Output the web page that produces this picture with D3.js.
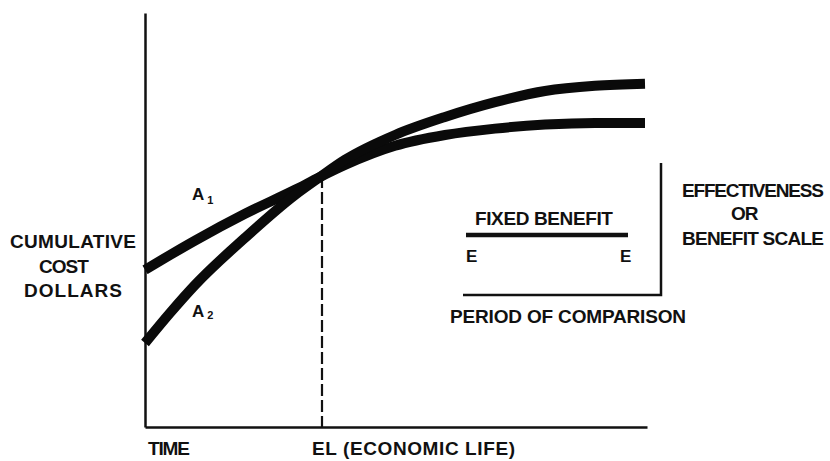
<!DOCTYPE html>
<html>
<head>
<meta charset="utf-8">
<style>
    body { margin: 0; background: #fff; }
    .lbl { font-family: "Liberation Sans", Arial, sans-serif; font-weight: 700; fill: #111; }
    .curve { fill: none; stroke: #0a0a0a; stroke-width: 10px; stroke-linecap: butt; }
    .axis { stroke: #111; stroke-width: 2.5px; fill: none; }
</style>
</head>
<body>
<div id="chart"></div>
<script src="https://cdn.jsdelivr.net/npm/d3@7"></script>
<script>
    // time points (arbitrary units, 0 = start, 10 = end of period)
    const time = [0, 0.5, 1, 2, 3, 3.5, 4, 5, 6, 7, 8, 9, 10];
    // cumulative cost of the two alternatives
    const costA1 = [3.93, 4.3, 4.66, 5.33, 5.93, 6.25, 6.55, 7.03, 7.3, 7.46, 7.56, 7.6, 7.6];
    const costA2 = [2.1, 2.85, 3.55, 4.73, 5.8, 6.25, 6.68, 7.3, 7.75, 8.12, 8.4, 8.53, 8.58];
    const economicLife = 3.54;

    // inset: fixed benefit over period of comparison
    const period = [6.36, 10.32];
    const benefitSpan = [6.42, 9.66];
    const benefitLevel = 4.8;
    const scaleRange = [3.3, 6.6];

    const W = 830, H = 461;
    const svg = d3.select("#chart").append("svg")
        .attr("width", W).attr("height", H);

    const x = d3.scaleLinear().domain([0, 10.04]).range([145, 647]);
    const y = d3.scaleLinear().domain([0, 10.35]).range([427, 13]);

    // axes (no ticks)
    svg.append("g")
        .attr("transform", "translate(" + x(0) + ",0)")
        .call(d3.axisLeft(y).tickValues([]).tickSizeOuter(0))
        .select(".domain").attr("class", "axis");
    svg.append("g")
        .attr("transform", "translate(0," + y(0) + ")")
        .call(d3.axisBottom(x).tickValues([]).tickSizeOuter(0))
        .select(".domain").attr("class", "axis");

    const line = d3.line()
        .curve(d3.curveMonotoneX)
        .x(function (d) { return x(d[0]); })
        .y(function (d) { return y(d[1]); });

    // economic life marker
    const elCost = d3.interpolateNumber(costA1[5], costA1[6])((economicLife - 3.5) / 0.5);
    svg.append("line")
        .attr("x1", x(economicLife)).attr("x2", x(economicLife))
        .attr("y1", y(elCost)).attr("y2", y(0))
        .attr("stroke", "#111").attr("stroke-width", 2.2)
        .attr("stroke-dasharray", "12,4");

    [costA1, costA2].forEach(function (c) {
        svg.append("path")
            .attr("class", "curve")
            .attr("d", line(time.map(function (t, i) { return [t, c[i]]; })));
    });

    // inset lines
    svg.append("path").attr("class", "axis")
        .attr("d", d3.line()([
            [x(period[0]), y(scaleRange[0])],
            [x(period[1]), y(scaleRange[0])],
            [x(period[1]), y(scaleRange[1])]
        ]));
    svg.append("line")
        .attr("x1", x(benefitSpan[0])).attr("x2", x(benefitSpan[1]))
        .attr("y1", y(benefitLevel)).attr("y2", y(benefitLevel))
        .attr("stroke", "#111").attr("stroke-width", 4.5);

    // text; width fitted with letter-spacing rather than glyph squeezing
    function label(txt, px, py, len, size, ls) {
        const t = svg.append("text")
            .attr("class", "lbl")
            .attr("x", px).attr("y", py)
            .style("font-size", (size || 19) + "px")
            .text(txt);
        if (len) {
            const natural = t.node().getComputedTextLength();
            ls = (len - natural) / Math.max(1, txt.length - 1);
        }
        if (ls) t.style("letter-spacing", ls.toFixed(2) + "px");
        return t;
    }

    label("CUMULATIVE", 10, 248, 126);
    label("COST", 39, 273, null, 19, -1);
    label("DOLLARS", 24, 297, 98);
    label("TIME", 148, 455, 42);
    label("EL (ECONOMIC LIFE)", 312, 455, 203);
    label("FIXED BENEFIT", 475, 225, 138);
    label("E", 466, 262, null, 17);
    label("E", 620, 262, null, 17);
    label("PERIOD OF COMPARISON", 450, 323, 236);
    label("EFFECTIVENESS", 682, 197, 142);
    label("OR", 731, 220, null, 19, -1);
    label("BENEFIT SCALE", 682, 245, 142);

    // series labels with subscripts
    const a1 = label("A", 192, 200, null, 17);
    a1.append("tspan").attr("dx", 3).attr("dy", 4).style("font-size", "11px").text("1");
    const a2 = label("A", 192, 317, null, 17);
    a2.append("tspan").attr("dx", 3).attr("dy", 2).style("font-size", "11px").text("2");
</script>
</body>
</html>
